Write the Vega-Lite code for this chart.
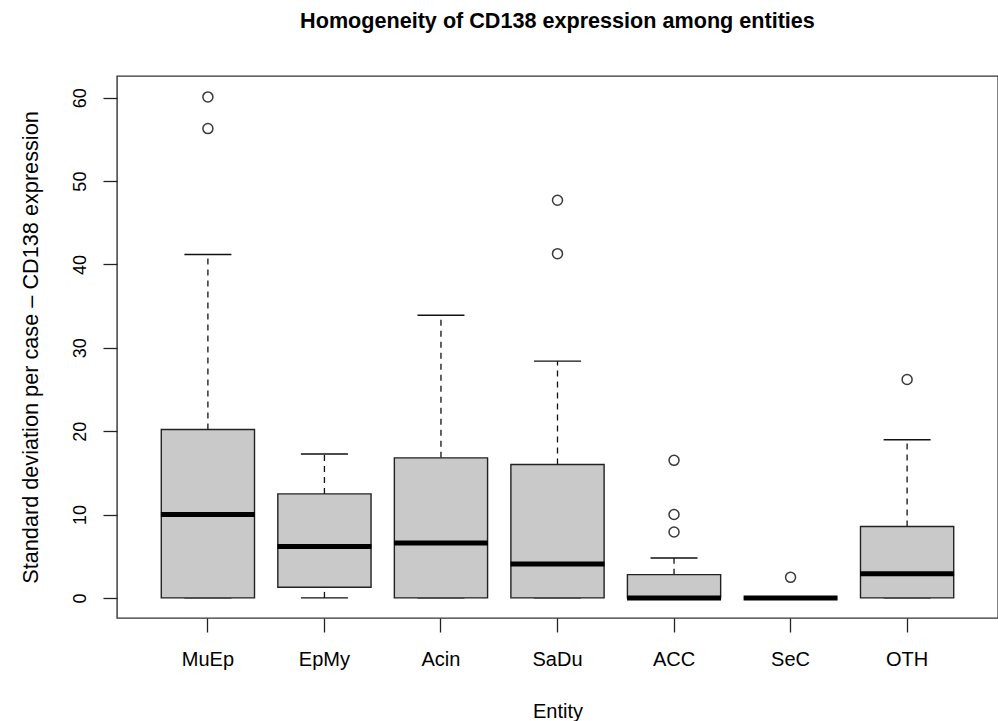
{
  "$schema": "https://vega.github.io/schema/vega-lite/v6.json",
  "autosize": {"type": "none"},
  "padding": {"left": 117, "top": 76, "right": 0, "bottom": 103},
  "width": 881,
  "height": 542,
  "background": "white",
  "title": {
    "text": "Homogeneity of CD138 expression among entities",
    "font": "Liberation Sans",
    "fontSize": 21.6,
    "fontWeight": "bold",
    "color": "#000000",
    "anchor": "middle",
    "baseline": "alphabetic",
    "offset": 26
  },
  "config": {
    "view": {"stroke": "#333333", "strokeWidth": 1.4},
    "axis": {
      "domain": false,
      "grid": false,
      "ticks": true,
      "tickSize": 14,
      "tickColor": "#222222",
      "tickWidth": 1.3,
      "labelFont": "Liberation Sans",
      "labelColor": "#000000",
      "titleFont": "Liberation Sans",
      "titleColor": "#000000",
      "titleFontWeight": "normal"
    },
    "axisY": {
      "titleFontSize": 21.7,
      "titleAngle": -90,
      "titleBaseline": "alphabetic",
      "titleX": -80,
      "labelFontSize": 18,
      "labelAngle": -90,
      "labelAlign": "center",
      "labelBaseline": "alphabetic",
      "labelPadding": 18
    }
  },
  "datasets": {
    "boxes": [
      {"entity": "MuEp", "lower": 0, "q1": 0, "median": 10.0, "q3": 20.2, "upper": 41.2},
      {"entity": "EpMy", "lower": 0, "q1": 1.27, "median": 6.17, "q3": 12.48, "upper": 17.26},
      {"entity": "Acin", "lower": 0, "q1": 0, "median": 6.58, "q3": 16.8, "upper": 33.9},
      {"entity": "SaDu", "lower": 0, "q1": 0, "median": 4.07, "q3": 16.0, "upper": 28.4},
      {"entity": "ACC", "lower": 0, "q1": 0, "median": 0, "q3": 2.79, "upper": 4.78},
      {"entity": "SeC", "lower": 0, "q1": 0, "median": 0, "q3": 0, "upper": 0},
      {"entity": "OTH", "lower": 0, "q1": 0, "median": 2.9, "q3": 8.57, "upper": 18.97}
    ],
    "outliers": [
      {"entity": "MuEp", "sd": 60.1},
      {"entity": "MuEp", "sd": 56.3},
      {"entity": "SaDu", "sd": 47.7},
      {"entity": "SaDu", "sd": 41.3},
      {"entity": "ACC", "sd": 16.5},
      {"entity": "ACC", "sd": 10.0},
      {"entity": "ACC", "sd": 7.9},
      {"entity": "SeC", "sd": 2.47},
      {"entity": "OTH", "sd": 26.2}
    ]
  },
  "encoding": {
    "x": {
      "field": "entity",
      "type": "nominal",
      "sort": ["MuEp", "EpMy", "Acin", "SaDu", "ACC", "SeC", "OTH"],
      "scale": {"type": "band", "paddingInner": 0, "paddingOuter": 0.28},
      "axis": {
        "title": "Entity",
        "titleFontSize": 20,
        "titleBaseline": "alphabetic",
        "titleY": 99,
        "labelFontSize": 20,
        "labelAngle": 0,
        "labelBaseline": "alphabetic",
        "labelPadding": 33
      }
    }
  },
  "layer": [
    {
      "data": {"name": "boxes"},
      "mark": {"type": "rule", "stroke": "#111111", "strokeWidth": 1.3, "strokeDash": [6, 5]},
      "encoding": {
        "y": {
          "field": "q3",
          "type": "quantitative",
          "title": "Standard deviation per case – CD138 expression",
          "scale": {"domain": [-2.41, 62.61], "nice": false, "zero": false},
          "axis": {"values": [0, 10, 20, 30, 40, 50, 60]}
        },
        "y2": {"field": "upper"}
      }
    },
    {
      "data": {"name": "boxes"},
      "mark": {"type": "rule", "stroke": "#111111", "strokeWidth": 1.3, "strokeDash": [6, 5]},
      "encoding": {
        "y": {"field": "lower", "type": "quantitative", "title": "Standard deviation per case – CD138 expression"},
        "y2": {"field": "q1"}
      }
    },
    {
      "data": {"name": "boxes"},
      "mark": {"type": "tick", "color": "#111111", "size": 47, "thickness": 1.4, "opacity": 1},
      "encoding": {
        "y": {"field": "upper", "type": "quantitative", "title": "Standard deviation per case – CD138 expression"}
      }
    },
    {
      "data": {"name": "boxes"},
      "mark": {"type": "tick", "color": "#111111", "size": 47, "thickness": 1.4, "opacity": 1},
      "encoding": {
        "y": {"field": "lower", "type": "quantitative", "title": "Standard deviation per case – CD138 expression"}
      }
    },
    {
      "data": {"name": "boxes"},
      "mark": {"type": "bar", "width": {"band": 0.8}, "fill": "#c9c9c9", "stroke": "#222222", "strokeWidth": 1.4},
      "encoding": {
        "y": {"field": "q1", "type": "quantitative", "title": "Standard deviation per case – CD138 expression"},
        "y2": {"field": "q3"}
      }
    },
    {
      "data": {"name": "boxes"},
      "mark": {"type": "tick", "color": "#000000", "size": 94, "thickness": 5, "opacity": 1},
      "encoding": {
        "y": {"field": "median", "type": "quantitative", "title": "Standard deviation per case – CD138 expression"}
      }
    },
    {
      "data": {"name": "outliers"},
      "mark": {"type": "point", "shape": "circle", "filled": false, "stroke": "#3a3a3a", "strokeWidth": 1.5, "size": 100, "opacity": 1},
      "encoding": {
        "y": {"field": "sd", "type": "quantitative", "title": "Standard deviation per case – CD138 expression"}
      }
    }
  ]
}
